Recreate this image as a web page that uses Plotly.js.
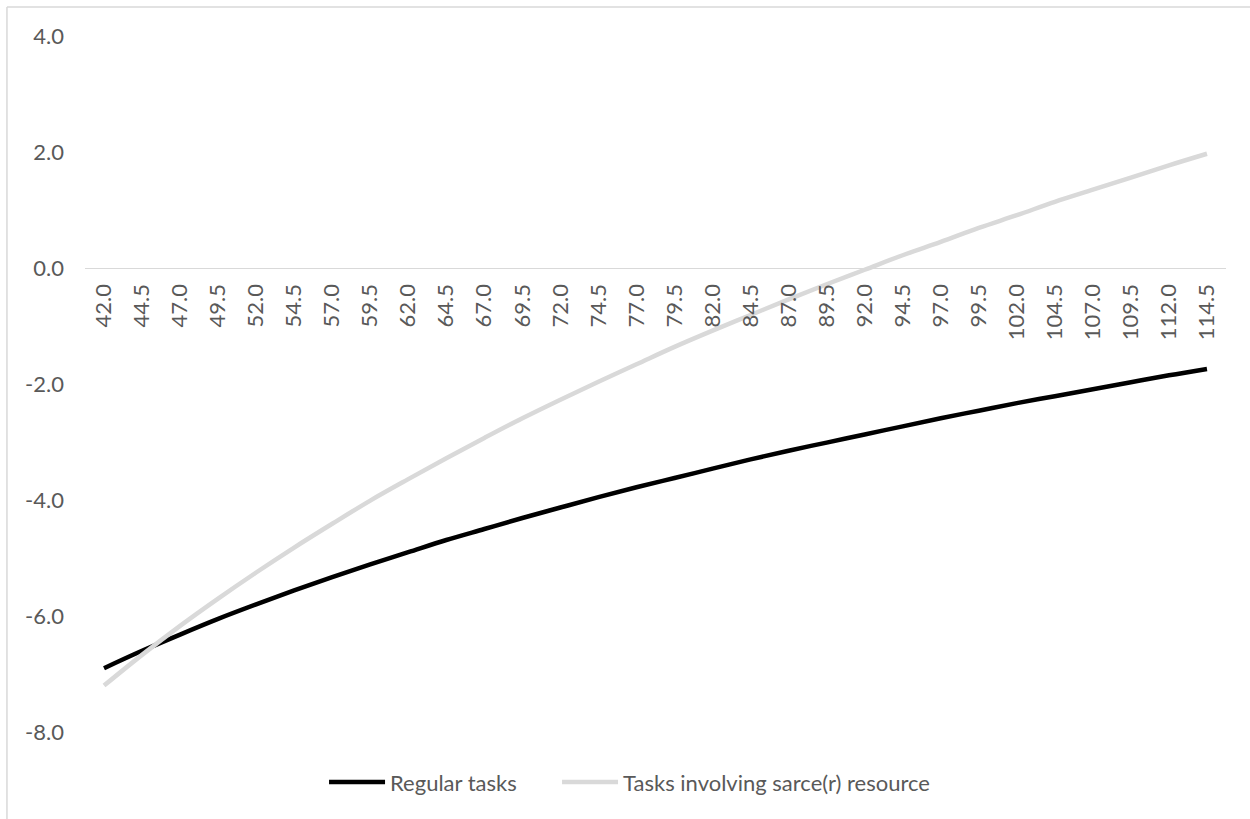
<!DOCTYPE html>
<html>
<head>
<meta charset="utf-8">
<script src="https://cdn.plot.ly/plotly-3.0.1.min.js"></script>
<style>
  html, body { margin: 0; padding: 0; background: #ffffff; }
  #chart { width: 1250px; height: 819px; }
</style>
</head>
<body>
<div id="chart"></div>
<script>
// Category labels (x axis)
const categories = ["42.0","44.5","47.0","49.5","52.0","54.5","57.0","59.5","62.0","64.5",
                    "67.0","69.5","72.0","74.5","77.0","79.5","82.0","84.5","87.0","89.5",
                    "92.0","94.5","97.0","99.5","102.0","104.5","107.0","109.5","112.0","114.5"];

// Series values
const regularTasks = [-6.90,-6.60,-6.32,-6.05,-5.80,-5.56,-5.33,-5.11,-4.90,-4.69,
                      -4.50,-4.31,-4.13,-3.95,-3.78,-3.62,-3.46,-3.30,-3.15,-3.01,
                      -2.87,-2.73,-2.59,-2.46,-2.33,-2.21,-2.09,-1.97,-1.85,-1.74];

const scarceTasks = [-7.20,-6.67,-6.17,-5.70,-5.25,-4.82,-4.41,-4.01,-3.64,-3.28,
                     -2.93,-2.59,-2.27,-1.96,-1.66,-1.36,-1.08,-0.81,-0.54,-0.28,
                     -0.03,0.22,0.45,0.69,0.91,1.14,1.35,1.56,1.77,1.97];

const seriesNames = ["Regular tasks", "Tasks involving sarce(r) resource"];
const yTickVals = [-8, -6, -4, -2, 0, 2, 4];
const yTickText = ["-8.0", "-6.0", "-4.0", "-2.0", "0.0", "2.0", "4.0"];

const FONT = "Lato, 'Liberation Sans', Arial, sans-serif";
const TXT = "#595959";
const BORDER = "#d9d9d9";
const FS = 22;

const traces = [
  {
    x: categories, y: regularTasks, name: seriesNames[0],
    type: "scatter", mode: "lines", legend: "legend",
    line: { color: "#000000", width: 4.5, shape: "spline" }
  },
  {
    x: categories, y: scarceTasks, name: seriesNames[1],
    type: "scatter", mode: "lines", legend: "legend2",
    line: { color: "#d9d9d9", width: 4.5, shape: "spline" }
  }
];

const yMin = -8, yMax = 4;

const legendBase = {
  orientation: "h",
  xanchor: "left",
  y: -0.072, yanchor: "middle",
  font: { family: FONT, size: FS, color: TXT },
  itemwidth: 56,
  bgcolor: "rgba(0,0,0,0)"
};

const layout = {
  width: 1250, height: 819,
  margin: { l: 85, r: 24, t: 36, b: 87 },
  paper_bgcolor: "#ffffff",
  plot_bgcolor: "#ffffff",
  font: { family: FONT, color: TXT, size: FS },
  showlegend: true,
  legend: Object.assign({}, legendBase, { x: 0.2095 }),
  legend2: Object.assign({}, legendBase, { x: 0.4137 }),
  xaxis: {
    type: "category",
    categoryorder: "array",
    categoryarray: categories,
    range: [-0.5, categories.length - 0.5],
    anchor: "free",
    position: (0 - yMin) / (yMax - yMin),
    showline: true, linecolor: BORDER, linewidth: 1.3,
    showgrid: false, zeroline: false,
    ticks: "",
    tickangle: -90,
    tickfont: { family: FONT, size: FS, color: TXT },
    ticklabelstandoff: 6
  },
  yaxis: {
    range: [yMin, yMax],
    tickvals: yTickVals,
    ticktext: yTickText,
    showgrid: false, zeroline: false, showline: false,
    ticks: "",
    tickfont: { family: FONT, size: FS, color: TXT },
    ticklabelstandoff: 20
  },
  shapes: [
    { type: "line", xref: "paper", yref: "paper",
      x0: -0.0684, x1: -0.0684, y0: 1.0417, y1: -0.2,
      line: { color: BORDER, width: 1.5 } },
    { type: "line", xref: "paper", yref: "paper",
      x0: -0.0684, x1: 1.1, y0: 1.0417, y1: 1.0417,
      line: { color: BORDER, width: 1.5 } }
  ]
};

Plotly.newPlot("chart", traces, layout, { displayModeBar: false, staticPlot: true });
</script>
</body>
</html>
